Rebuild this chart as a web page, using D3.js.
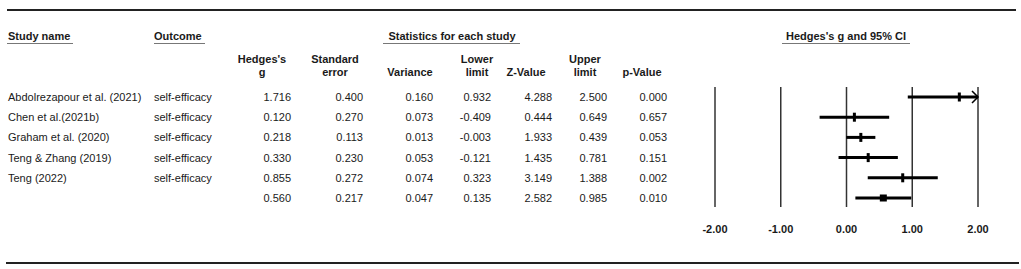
<!DOCTYPE html>
<html>
<head>
<meta charset="utf-8">
<script src="https://cdn.jsdelivr.net/npm/d3@7"></script>
<style>
  body { margin: 0; background: #fff; }
  svg { display: block; font-family: "Liberation Sans", Arial, sans-serif; }
</style>
</head>
<body>
<svg id="drawing_region"></svg>
<script>
// table values (last row = pooled summary)
const studies  = ["Abdolrezapour et al. (2021)", "Chen et al.(2021b)", "Graham et al. (2020)", "Teng & Zhang (2019)", "Teng (2022)", ""];
const outcomes = ["self-efficacy", "self-efficacy", "self-efficacy", "self-efficacy", "self-efficacy", ""];
const hedgesG  = [1.716, 0.120, 0.218, 0.330, 0.855, 0.560];
const stdErr   = [0.400, 0.270, 0.113, 0.230, 0.272, 0.217];
const variance = [0.160, 0.073, 0.013, 0.053, 0.074, 0.047];
const lowerLim = [0.932, -0.409, -0.003, -0.121, 0.323, 0.135];
const zValue   = [4.288, 0.444, 1.933, 1.435, 3.149, 2.582];
const upperLim = [2.500, 0.649, 0.439, 0.781, 1.388, 0.985];
const pValue   = [0.000, 0.657, 0.053, 0.151, 0.002, 0.010];
const xTicks   = [-2, -1, 0, 1, 2];

const numCols = [
    { head: ["Hedges's", "g"],     values: hedgesG,  right: 291, center: 262 },
    { head: ["Standard", "error"], values: stdErr,   right: 363, center: 335 },
    { head: ["Variance"],          values: variance, right: 433, center: 410 },
    { head: ["Lower", "limit"],    values: lowerLim, right: 491, center: 477 },
    { head: ["Z-Value"],           values: zValue,   right: 552, center: 526 },
    { head: ["Upper", "limit"],    values: upperLim, right: 607, center: 585 },
    { head: ["p-Value"],           values: pValue,   right: 667, center: 642 }
];

const W = 1021, H = 269;
const svg = d3.select('#drawing_region').attr('width', W).attr('height', H);
const ink = '#1a1a1a';

const yscale = d3.scaleLinear().domain([0, studies.length - 1]).range([97, 198]);
const xscale = d3.scaleLinear().domain([-2, 2]).range([715, 978]);
// plain hyphen for negatives, like the original table
const locale = d3.formatLocale({ decimal: '.', thousands: ',', grouping: [3], currency: ['', ''], minus: '-' });
const fmt = locale.format('.3f');
const fmtTick = locale.format('.2f');

// top and bottom rules
svg.append('line').attr('x1', 7).attr('x2', 1016).attr('y1', 10).attr('y2', 10)
    .attr('stroke', '#222').attr('stroke-width', 2);
svg.append('line').attr('x1', 6).attr('x2', 1019).attr('y1', 263).attr('y2', 263)
    .attr('stroke', '#222').attr('stroke-width', 2);

// group headings with underline
const groups = [
    { text: "Study name", x: 8, anchor: 'start', u: [7, 73] },
    { text: "Outcome", x: 154, anchor: 'start', u: [154, 205] },
    { text: "Statistics for each study", x: 452, anchor: 'middle', u: [383, 520] },
    { text: "Hedges's g and 95% CI", x: 846, anchor: 'middle', u: [782, 910] }
];
groups.forEach(g => {
    svg.append('text').attr('x', g.x).attr('y', 40)
        .attr('text-anchor', g.anchor).attr('font-size', 11).attr('font-weight', 'bold')
        .attr('fill', ink).text(g.text);
    svg.append('line').attr('x1', g.u[0]).attr('x2', g.u[1]).attr('y1', 43.5).attr('y2', 43.5)
        .attr('stroke', '#777').attr('stroke-width', 1);
});

// column headings and numbers
numCols.forEach(c => {
    const lines = c.head.length === 2 ? c.head : [null, c.head[0]];
    lines.forEach((t, i) => {
        if (!t) return;
        svg.append('text').attr('x', c.center).attr('y', 63 + i * 13)
            .attr('text-anchor', 'middle').attr('font-size', 11).attr('font-weight', 'bold')
            .attr('fill', ink).text(t);
    });
    svg.selectAll(null).data(c.values).enter().append('text')
        .attr('x', c.right).attr('y', (d, i) => yscale(i) + 4)
        .attr('text-anchor', 'end').attr('font-size', 11).attr('fill', ink)
        .text(d => fmt(d));
});

svg.selectAll(null).data(studies).enter().append('text')
    .attr('x', 8).attr('y', (d, i) => yscale(i) + 4)
    .attr('font-size', 11).attr('fill', ink).text(d => d);
svg.selectAll(null).data(outcomes).enter().append('text')
    .attr('x', 154).attr('y', (d, i) => yscale(i) + 4)
    .attr('font-size', 11).attr('fill', ink).text(d => d);

// forest plot reference lines
svg.selectAll(null).data(xTicks).enter().append('line')
    .attr('x1', d => xscale(d)).attr('x2', d => xscale(d))
    .attr('y1', 87).attr('y2', 207)
    .attr('stroke', '#333').attr('stroke-width', 1.5);
svg.selectAll(null).data(xTicks).enter().append('text')
    .attr('x', d => xscale(d)).attr('y', 233)
    .attr('text-anchor', 'middle').attr('font-size', 11).attr('font-weight', 'bold')
    .attr('fill', ink).text(d => fmtTick(d));

// CI lines
const [dmin, dmax] = xscale.domain();
hedgesG.forEach((g, i) => {
    const y = yscale(i);
    const lo = Math.max(lowerLim[i], dmin), hi = Math.min(upperLim[i], dmax);
    svg.append('line').attr('x1', xscale(lo)).attr('x2', xscale(hi))
        .attr('y1', y).attr('y2', y).attr('stroke', '#000').attr('stroke-width', 3);
    if (upperLim[i] > dmax) {
        const ax = xscale(dmax);
        svg.append('path').attr('d', `M${ax - 6},${y - 6}L${ax},${y}L${ax - 6},${y + 6}`)
            .attr('fill', 'none').attr('stroke', '#000').attr('stroke-width', 1.5);
    }
    if (i === hedgesG.length - 1) {
        svg.append('rect').attr('x', xscale(g) - 3.5).attr('y', y - 3.5)
            .attr('width', 7).attr('height', 7).attr('fill', '#000');
    } else {
        svg.append('rect').attr('x', xscale(g) - 1.5).attr('y', y - 4.5)
            .attr('width', 3).attr('height', 9).attr('fill', '#000');
    }
});
</script>
</body>
</html>
